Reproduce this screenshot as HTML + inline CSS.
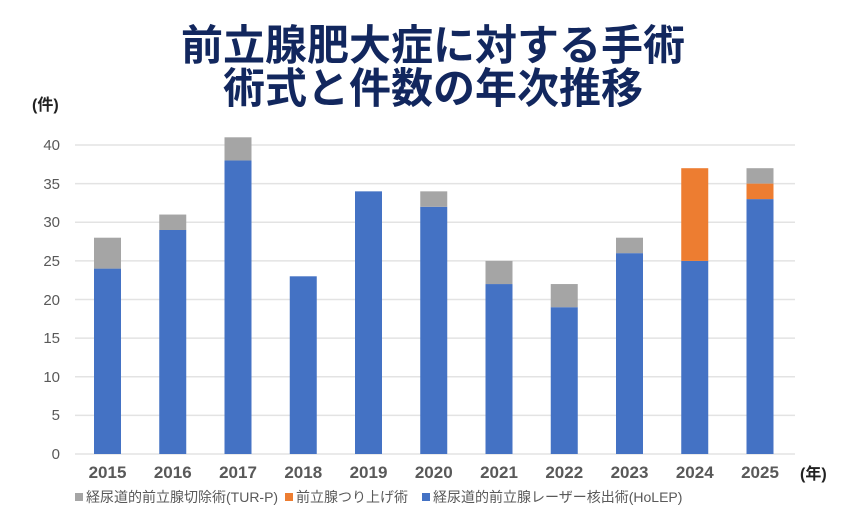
<!DOCTYPE html>
<html><head><meta charset="utf-8"><style>
body{margin:0;background:#fff;}
svg text{font-family:"Liberation Sans","Noto Sans CJK JP",sans-serif;}
</style></head><body>
<svg width="850" height="527" xmlns="http://www.w3.org/2000/svg">
<rect width="850" height="527" fill="#fff"/>
<g fill="#12275e" font-weight="bold" font-size="42" text-anchor="middle">
<text x="433" y="60" font-family="Noto Sans CJK JP,sans-serif">前立腺肥大症に対する手術</text>
<text x="433" y="103" font-family="Noto Sans CJK JP,sans-serif">術式と件数の年次推移</text>
</g>
<text x="32" y="110" font-size="16" font-weight="bold" fill="#222">(件)</text>
<g stroke="#e3e3e3" stroke-width="1.5">
<line x1="75" x2="795" y1="145" y2="145"/><line x1="75" x2="795" y1="183.6" y2="183.6"/>
<line x1="75" x2="795" y1="222.3" y2="222.3"/><line x1="75" x2="795" y1="260.9" y2="260.9"/>
<line x1="75" x2="795" y1="299.5" y2="299.5"/><line x1="75" x2="795" y1="338.1" y2="338.1"/>
<line x1="75" x2="795" y1="376.8" y2="376.8"/><line x1="75" x2="795" y1="415.4" y2="415.4"/>
<line x1="75" x2="795" y1="454" y2="454"/>
</g>
<g font-size="15" fill="#595959" text-anchor="end">
<text x="60" y="150">40</text><text x="60" y="189">35</text><text x="60" y="227">30</text>
<text x="60" y="266">25</text><text x="60" y="305">20</text><text x="60" y="343">15</text>
<text x="60" y="382">10</text><text x="60" y="420">5</text><text x="60" y="459">0</text>
</g>
<g fill="#4472c4">
<rect x="94" y="268.6" width="27" height="185.4"/>
<rect x="159.25" y="230" width="27" height="224"/>
<rect x="224.5" y="160.45" width="27" height="293.55"/>
<rect x="289.75" y="276.3" width="27" height="177.7"/>
<rect x="355" y="191.35" width="27" height="262.65"/>
<rect x="420.25" y="206.8" width="27" height="247.2"/>
<rect x="485.5" y="284.05" width="27" height="169.95"/>
<rect x="550.75" y="307.2" width="27" height="146.8"/>
<rect x="616" y="253.15" width="27" height="200.85"/>
<rect x="681.25" y="260.9" width="27" height="193.1"/>
<rect x="746.5" y="199.1" width="27" height="254.9"/>
</g>
<g fill="#a5a5a5">
<rect x="94" y="237.7" width="27" height="30.9"/>
<rect x="159.25" y="214.55" width="27" height="15.45"/>
<rect x="224.5" y="137.3" width="27" height="23.15"/>
<rect x="420.25" y="191.35" width="27" height="15.45"/>
<rect x="485.5" y="260.9" width="27" height="23.15"/>
<rect x="550.75" y="284.05" width="27" height="23.15"/>
<rect x="616" y="237.7" width="27" height="15.45"/>
<rect x="746.5" y="168.2" width="27" height="15.45"/>
</g>
<g fill="#ed7d31">
<rect x="681.25" y="168.2" width="27" height="92.7"/>
<rect x="746.5" y="183.65" width="27" height="15.45"/>
</g>
<g font-size="17" font-weight="bold" fill="#595959" text-anchor="middle">
<text x="107.5" y="478">2015</text><text x="172.75" y="478">2016</text><text x="238" y="478">2017</text>
<text x="303.25" y="478">2018</text><text x="368.5" y="478">2019</text><text x="433.75" y="478">2020</text>
<text x="499" y="478">2021</text><text x="564.25" y="478">2022</text><text x="629.5" y="478">2023</text>
<text x="694.75" y="478">2024</text><text x="760" y="478">2025</text>
</g>
<text x="800" y="479" font-size="16" font-weight="bold" fill="#222">(年)</text>
<g font-size="14" fill="#595959">
<rect x="75" y="493" width="8" height="8" fill="#a5a5a5"/><text x="86" y="502">経尿道的前立腺切除術(TUR-P)</text>
<rect x="285" y="493" width="8" height="8" fill="#ed7d31"/><text x="296" y="502">前立腺つり上げ術</text>
<rect x="422" y="493" width="8" height="8" fill="#4472c4"/><text x="433" y="502">経尿道的前立腺レーザー核出術(HoLEP)</text>
</g>
</svg>
</body></html>
